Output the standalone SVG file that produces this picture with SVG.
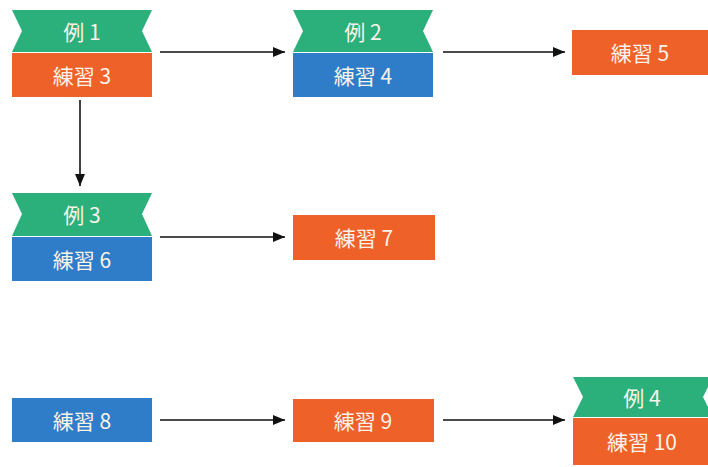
<svg xmlns="http://www.w3.org/2000/svg" width="708" height="467" viewBox="0 0 708 467">
<defs>
<marker id="ah" viewBox="0 0 12 10" refX="12" refY="5" markerWidth="12" markerHeight="10" markerUnits="userSpaceOnUse" orient="auto">
<path d="M0,0 L12,5 L0,10 z" fill="#111"/>
</marker>
</defs>
<style>
.g{fill:#2bb07b}
.o{fill:#ee6128}
.b{fill:#2f7dc9}
.t{font-family:"Noto Sans CJK JP","Noto Sans",sans-serif;font-size:21px;fill:#fbf3ea;text-anchor:middle;dominant-baseline:central}
.c{stroke:#111;stroke-width:1.6;fill:none;marker-end:url(#ah)}
</style>
<rect width="708" height="467" fill="#ffffff"/>
<g id="n1">
<polygon class="g" points="12,10 152,10 142,31 152,52 12,52 22,31"/>
<rect class="o" x="12" y="53" width="140" height="44"/>
<text class="t" x="82" y="31">例 1</text>
<text class="t" x="82" y="75">練習 3</text>
</g>
<g id="n2">
<polygon class="g" points="293,10 433,10 423,31 433,52 293,52 303,31"/>
<rect class="b" x="293" y="53" width="140" height="44"/>
<text class="t" x="363" y="31">例 2</text>
<text class="t" x="363" y="75">練習 4</text>
</g>
<g id="n5">
<rect class="o" x="572" y="30" width="136" height="45"/>
<text class="t" x="640" y="52">練習 5</text>
</g>
<g id="n3">
<polygon class="g" points="12,193 152,193 142,214 152,236 12,236 22,214"/>
<rect class="b" x="12" y="237" width="140" height="44"/>
<text class="t" x="82" y="214">例 3</text>
<text class="t" x="82" y="259">練習 6</text>
</g>
<g id="n7">
<rect class="o" x="293" y="215" width="142" height="45"/>
<text class="t" x="364" y="237">練習 7</text>
</g>
<g id="n8">
<rect class="b" x="12" y="398" width="140" height="44"/>
<text class="t" x="82" y="420">練習 8</text>
</g>
<g id="n9">
<rect class="o" x="293" y="399" width="141" height="43"/>
<text class="t" x="363" y="420">練習 9</text>
</g>
<g id="n10">
<polygon class="g" points="573,377 713,377 703,397 713,417 573,417 583,397"/>
<rect class="o" x="573" y="418" width="140" height="47"/>
<text class="t" x="642" y="397">例 4</text>
<text class="t" x="642" y="441">練習 10</text>
</g>
<g id="connectors">
<line class="c" x1="160" y1="52" x2="285" y2="52"/>
<line class="c" x1="443" y1="52" x2="565" y2="52"/>
<line class="c" x1="80" y1="100" x2="80" y2="186"/>
<line class="c" x1="160" y1="237" x2="285" y2="237"/>
<line class="c" x1="160" y1="420" x2="285" y2="420"/>
<line class="c" x1="443" y1="420" x2="565" y2="420"/>
</g>
</svg>
